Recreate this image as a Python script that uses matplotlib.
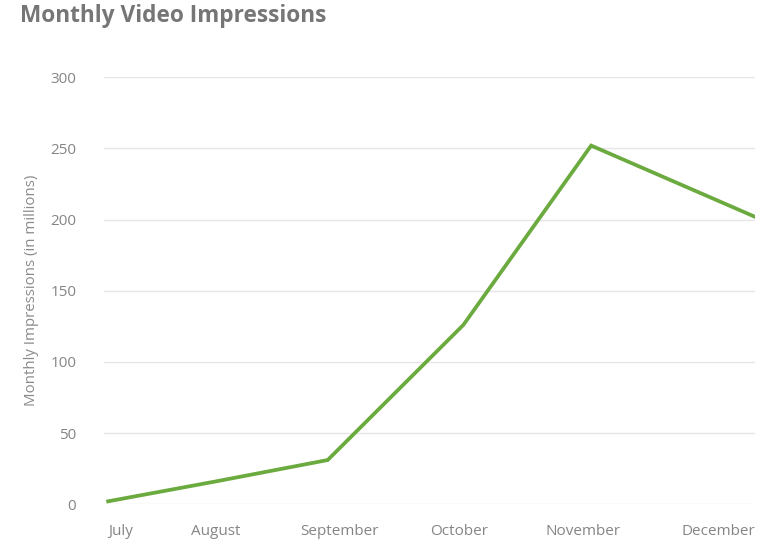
import matplotlib
matplotlib.use("Agg")
import matplotlib.pyplot as plt
import matplotlib.dates as mdates
import pandas as pd

# data
point_dates = ["2015-07-05", "2015-08-01", "2015-08-29", "2015-10-02", "2015-11-03", "2015-12-14"]
impressions = [2, 16, 31, 126, 252, 202]
month_labels = ["July", "August", "September", "October", "November", "December"]
month_starts = ["2015-07-01", "2015-08-01", "2015-09-01", "2015-10-01", "2015-11-01", "2015-12-01"]

plt.rcParams['font.family'] = ['Open Sans', 'DejaVu Sans']

x = pd.to_datetime(point_dates)
ticks = pd.to_datetime(month_starts)

fig = plt.figure(figsize=(7.83, 5.48), dpi=100)
ax = fig.add_axes([0.133, 0.080, 0.831, 0.779])

ax.plot(x, impressions, color="#6BAA3E", linewidth=2.7, solid_joinstyle="miter")

ax.set_xlim(x[0] - pd.Timedelta(days=1), x[-1])
ax.set_ylim(0, 300)
ax.set_yticks(range(0, 301, 50))

# first and last month labels are pinned inside the plot edges
tick_pos = [x[0]] + list(ticks[1:-1]) + [x[-1]]
ax.set_xticks(mdates.date2num(tick_pos))
ax.set_xticklabels(month_labels)
labels = ax.get_xticklabels()
labels[0].set_ha("left")
labels[-1].set_ha("right")

ax.grid(axis="y", color="#e6e6e6", linewidth=1)
ax.set_axisbelow(True)
for s in ax.spines.values():
    s.set_visible(False)
ax.tick_params(axis="both", length=0, labelsize=11, colors="#858585")
ax.tick_params(axis="y", pad=20)
ax.tick_params(axis="x", pad=14)

ax.set_ylabel("Monthly Impressions (in millions)", fontsize=10.8, color="#8a8a8a", labelpad=8)

fig.text(0.026, 0.971, "Monthly Video Impressions", fontsize=16.3, fontweight="bold",
         color="#767676", ha="left", va="center")

fig.savefig("out.png", dpi=100)
